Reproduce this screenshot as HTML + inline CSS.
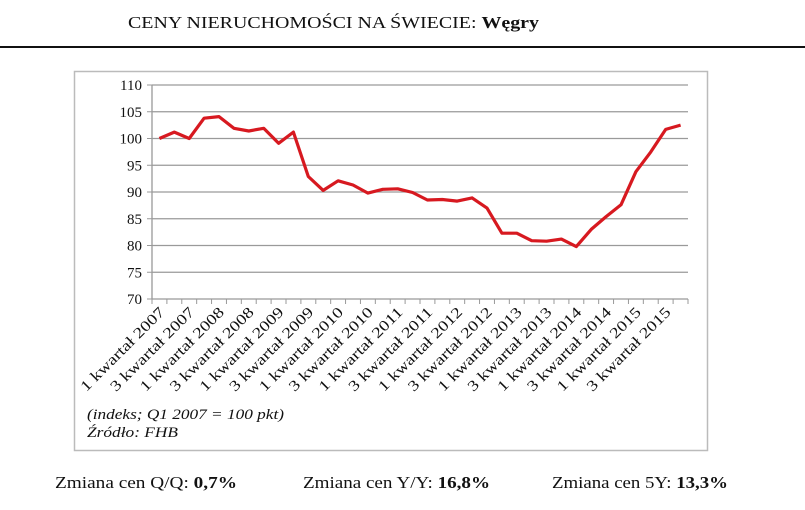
<!DOCTYPE html>
<html><head><meta charset="utf-8"><style>
html,body{margin:0;padding:0;background:#fff;}
svg{display:block;font-family:"Liberation Serif",serif;}
</style></head><body>
<svg id="chart" width="805" height="510" viewBox="0 0 805 510">
  <text x="128" y="28" font-size="17" fill="#111" textLength="411" lengthAdjust="spacingAndGlyphs">CENY NIERUCHOMOŚCI NA ŚWIECIE: <tspan font-weight="bold">Węgry</tspan></text>
  <line x1="0" y1="47" x2="805" y2="47" stroke="#111" stroke-width="2"/>
  <rect x="74.5" y="71.5" width="633" height="379" fill="#fff" stroke="#bbb" stroke-width="1.5"/>
  <g id="grid"></g>
  <g id="yticks"></g>
  <g id="xticks"></g>
  <g id="xlabels"></g>
  <path id="line" fill="none" stroke="#d71920" stroke-width="3.2" stroke-linejoin="round"/>
  <text x="87" y="419" font-size="15" font-style="italic" fill="#111" textLength="197" lengthAdjust="spacingAndGlyphs">(indeks; Q1 2007 = 100 pkt)</text>
  <text x="87" y="437" font-size="15" font-style="italic" fill="#111" textLength="91" lengthAdjust="spacingAndGlyphs">Źródło: FHB</text>
  <text x="55" y="488" font-size="17" fill="#111" textLength="182" lengthAdjust="spacingAndGlyphs">Zmiana cen Q/Q: <tspan font-weight="bold">0,7%</tspan></text>
  <text x="303" y="488" font-size="17" fill="#111" textLength="187" lengthAdjust="spacingAndGlyphs">Zmiana cen Y/Y: <tspan font-weight="bold">16,8%</tspan></text>
  <text x="552" y="488" font-size="17" fill="#111" textLength="176" lengthAdjust="spacingAndGlyphs">Zmiana cen 5Y: <tspan font-weight="bold">13,3%</tspan></text>
</svg>
<script>
const years = [2007,2008,2009,2010,2011,2012,2013,2014,2015];
const quarters = [1,2,3,4];
const values = [100,101.2,100,103.8,104.1,101.9,101.4,101.9,99.1,101.2,92.9,90.3,92.1,91.3,89.8,90.5,90.6,89.9,88.5,88.6,88.3,88.9,87.0,82.3,82.3,80.9,80.8,81.2,79.8,83.0,85.4,87.6,93.8,97.5,101.7,102.5];
const yTicks = [70,75,80,85,90,95,100,105,110];

const categories = [];
years.forEach(y => quarters.forEach(q => categories.push({q:q, y:y})));
const NS = 'http://www.w3.org/2000/svg';
const X0 = 152, X1 = 688, Y0 = 299, Y1 = 85, VMIN = 70, VMAX = 110;
const n = values.length;
const bw = (X1 - X0) / n;
function xPos(i){ return X0 + bw * (i + 0.5); }
function yPos(v){ return Y0 - (v - VMIN) / (VMAX - VMIN) * (Y0 - Y1); }
function mk(tag, attrs, parent){ const e = document.createElementNS(NS, tag); for (const k in attrs) e.setAttribute(k, attrs[k]); parent.appendChild(e); return e; }

const grid = document.getElementById('grid');
const yt = document.getElementById('yticks');
yTicks.forEach(t => {
  const y = yPos(t);
  if (t > VMIN) {
    const l = mk('line', {x1:X0, x2:X1, y1:y, y2:y, stroke:'#9a9a9a', 'stroke-width':1.3}, grid);
    
    
  }
  const tk = mk('line', {x1:X0-5, x2:X0, y1:y, y2:y, stroke:'#999', 'stroke-width':1}, grid);
  
  
  const tx = mk('text', {x:X0-10, y:y+5, 'text-anchor':'end', 'font-size':15, fill:'#111'}, yt);
  tx.textContent = t;
  
  
});
const ya = mk('line', {x1:X0, x2:X0, y1:Y1, y2:Y0, stroke:'#999', 'stroke-width':1.3}, grid);


const xa = mk('line', {x1:X0, x2:X1, y1:Y0, y2:Y0, stroke:'#999', 'stroke-width':1.3}, grid);



const xt = document.getElementById('xticks');
for (let i = 0; i <= n; i++) {
  const x = X0 + bw * i;
  const l = mk('line', {x1:x, x2:x, y1:Y0, y2:Y0+5, stroke:'#999', 'stroke-width':1}, xt);
  
  
}
const xl = document.getElementById('xlabels');
categories.forEach((c, i) => {
  if (c.q !== 1 && c.q !== 3) return;
  const x = xPos(i) + 6, y = Y0 + 14;
  const t = mk('text', {x:x, y:y, 'text-anchor':'end', 'font-size':15, fill:'#111', textLength:112, lengthAdjust:'spacingAndGlyphs', transform:'rotate(-45 ' + x + ' ' + y + ')'}, xl);
  t.textContent = c.q + ' kwartał ' + c.y;
  
  
});

document.getElementById('line').setAttribute('d', values.map((v, i) => (i ? 'L' : 'M') + xPos(i).toFixed(1) + ' ' + yPos(v).toFixed(1)).join(' '));
</script>
</body></html>
